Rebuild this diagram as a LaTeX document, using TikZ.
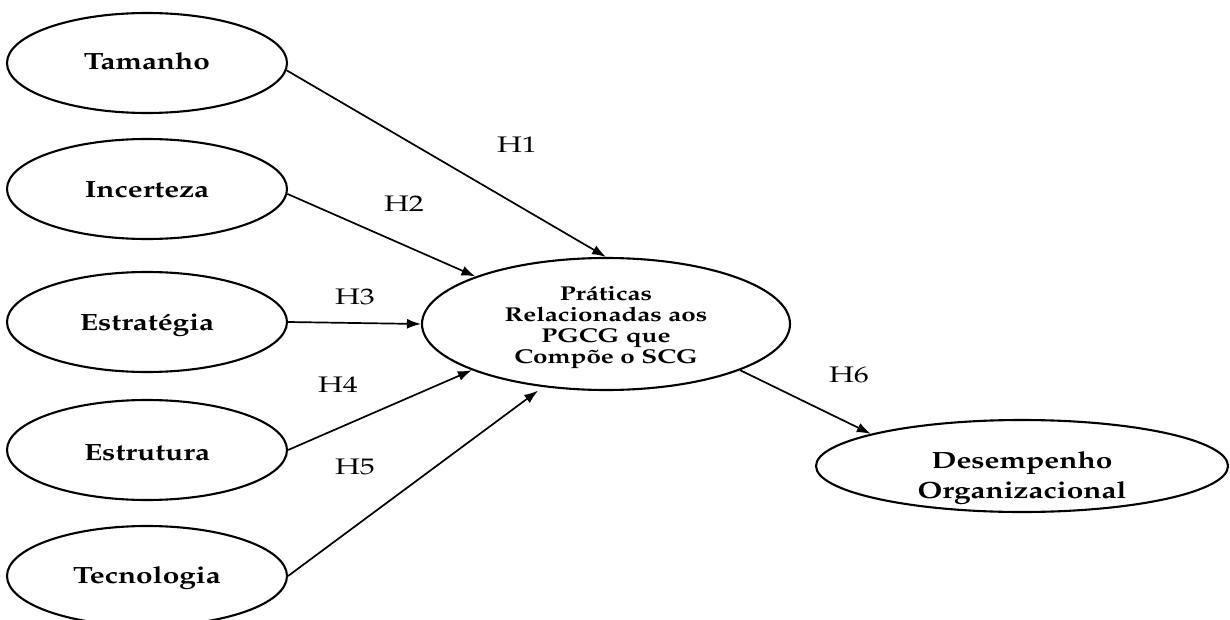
\documentclass[tikz,border=0pt]{standalone}
\usepackage[T1]{fontenc}
\usepackage{mathpazo}
\usepackage{graphicx}
\usetikzlibrary{arrows.meta,shapes.geometric}
\newcommand{\hstretch}[2]{\scalebox{#1}[1]{#2}}
\tikzset{
  var/.style={ellipse, draw, line width=2.1pt, inner sep=0pt},
  small/.style={var, minimum width=280pt, minimum height=100pt},
  lbl/.style={font=\fontsize{23.5}{28}\selectfont\bfseries, anchor=base, inner sep=0pt},
  multi/.style={inner sep=0pt, anchor=center},
  hyp/.style={font=\fontsize{22.5}{26}\selectfont, inner sep=0pt},
  link/.style={line width=1.7pt, -{Latex[length=14pt,width=10pt]}},
}
\begin{document}
\begin{tikzpicture}[x=1pt,y=-1pt]
\useasboundingbox (0,0) rectangle (1230,620);
\clip (0,0) rectangle (1230,620);
\fill[white] (0,0) rectangle (1230,620);
% left ellipses
\node[small] (tam)  at (147,63)  {};
\node[small] (inc)  at (147,189) {};
\node[small] (est)  at (147,322) {};
\node[small] (estr) at (147,450) {};
\node[small] (tec)  at (147,576) {};
\node[lbl] (tamt)  at (147,70)  {\hstretch{1.27}{Tamanho}};
\node[lbl] (inct)  at (147,198) {\hstretch{1.27}{Incerteza}};
\node[lbl] (estt)  at (147,330) {\hstretch{1.27}{Estratégia}};
\node[lbl] (estrt) at (147,460) {\hstretch{1.27}{Estrutura}};
\node[lbl] (tect)  at (147,583) {\hstretch{1.27}{Tecnologia}};
% central
\node[var, minimum width=368pt, minimum height=132pt] (prat) at (606,324) {};
\node[multi] (pratt) at (606,327.7) {\hstretch{1.3}{\fontsize{20}{21.3}\selectfont\bfseries
  \begin{tabular}{@{}c@{}}Práticas\\Relacionadas aos\\PGCG que\\Compõe o SCG\end{tabular}}};
% outcome
\node[var, minimum width=412pt, minimum height=92pt] (des) at (1022,466) {};
\node[multi] (dest) at (1022,477) {\hstretch{1.27}{\fontsize{23.5}{30}\selectfont\bfseries
  \begin{tabular}{@{}c@{}}Desempenho\\Organizacional\end{tabular}}};
% connectors
\draw[link] (tam.-3) -- (prat.90.5);
\draw[link] (inc.-2) -- (prat.160.5);
\draw[link] (est.east) -- (prat.west);
\draw[link] (estr.east) -- (prat.199.7);
\draw[link, shorten >=6pt] (tec.east) -- (prat.225.5);
\draw[link] (prat.-19.7) -- (des.168);
% labels
\node[hyp] (h1) at (517,145) {\hstretch{1.33}{H1}};
\node[hyp] (h2) at (404,204) {\hstretch{1.33}{H2}};
\node[hyp] (h3) at (355,297) {\hstretch{1.33}{H3}};
\node[hyp] (h4) at (338,385) {\hstretch{1.33}{H4}};
\node[hyp] (h5) at (355,467) {\hstretch{1.33}{H5}};
\node[hyp] (h6) at (849,375) {\hstretch{1.33}{H6}};
\end{tikzpicture}
\end{document}
